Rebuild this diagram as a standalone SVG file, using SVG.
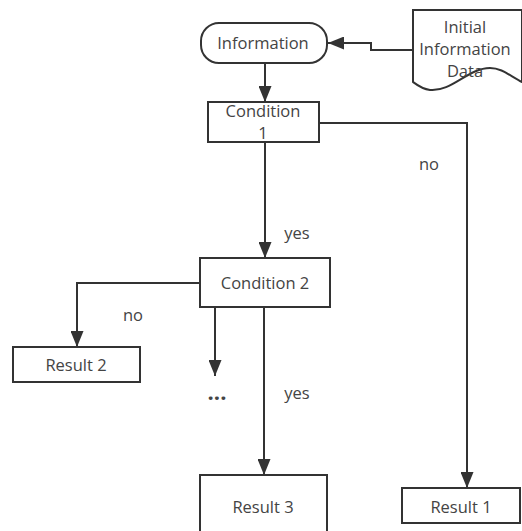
<svg xmlns="http://www.w3.org/2000/svg" width="522" height="531" viewBox="0 0 522 531">
  <style>
    .shape { fill: #ffffff; stroke: #333333; stroke-width: 2; }
    .edge { fill: none; stroke: #333333; stroke-width: 2; }
    text { font-family: "Open Sans", "Noto Sans", sans-serif; font-size: 16.5px; fill: #444444; text-anchor: middle; }
  </style>
  <defs>
    <marker id="arrow" viewBox="0 0 16 13" refX="16" refY="6.5" markerWidth="16" markerHeight="13" markerUnits="userSpaceOnUse" orient="auto">
      <path d="M0,0 L16,6.5 L0,13 Z" fill="#333333"/>
    </marker>
  </defs>
  <rect width="522" height="531" fill="#ffffff"/>

  <g id="connectors">
    <path class="edge" d="M413,50 H371 V43 H328" marker-end="url(#arrow)"/>
    <path class="edge" d="M265,63 V102" marker-end="url(#arrow)"/>
    <path class="edge" d="M319,123 H467 V488" marker-end="url(#arrow)"/>
    <path class="edge" d="M265,142 V258" marker-end="url(#arrow)"/>
    <path class="edge" d="M200,283 H77 V347" marker-end="url(#arrow)"/>
    <path class="edge" d="M215,307 V376" marker-end="url(#arrow)"/>
    <path class="edge" d="M264,307 V475" marker-end="url(#arrow)"/>
    <text x="429" y="170">no</text>
    <text x="297" y="239">yes</text>
    <text x="133" y="321">no</text>
    <text x="297" y="399">yes</text>
    <text x="217" y="400" style="font-weight:bold; font-size:22px">...</text>
  </g>

  <g id="initial-data">
    <path class="shape" d="M413,10 H522 V82 C510,76 502,68 490,68 C468,68 452,92 430,90 C422,89 417,85 413,82 Z"/>
    <text x="465" y="33">Initial</text>
    <text x="465" y="55">Information</text>
    <text x="465" y="77">Data</text>
  </g>

  <g id="information">
    <rect class="shape" x="201" y="23" width="126" height="40" rx="18" ry="18"/>
    <text x="263" y="49">Information</text>
  </g>

  <g id="condition-1">
    <rect class="shape" x="208" y="102" width="111" height="40"/>
    <text x="263" y="117">Condition</text>
    <text x="263" y="139">1</text>
  </g>

  <g id="condition-2">
    <rect class="shape" x="200" y="258" width="130" height="49"/>
    <text x="265" y="289">Condition 2</text>
  </g>

  <g id="result-2">
    <rect class="shape" x="13" y="347" width="127" height="35"/>
    <text x="76" y="371">Result 2</text>
  </g>

  <g id="result-3">
    <rect class="shape" x="200" y="475" width="127" height="62"/>
    <text x="263" y="513">Result 3</text>
  </g>

  <g id="result-1">
    <rect class="shape" x="402" y="488" width="118" height="35"/>
    <text x="461" y="513">Result 1</text>
  </g>
</svg>
